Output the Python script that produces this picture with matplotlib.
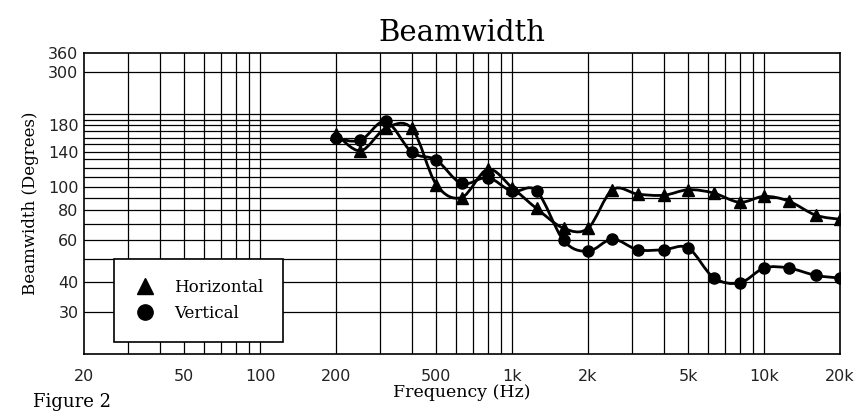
import numpy as np
import matplotlib
matplotlib.use("Agg")
import matplotlib.pyplot as plt
from matplotlib.path import Path
from matplotlib.patches import PathPatch
from matplotlib.lines import Line2D

# ---- data ----
freqs = [200, 250, 315, 400, 500, 630, 800, 1000, 1250, 1600, 2000, 2500,
         3150, 4000, 5000, 6300, 8000, 10000, 12500, 16000, 20000]
horizontal = [166, 141, 175, 175, 102, 90, 118, 99, 81, 67, 67, 97,
              93, 92, 97, 94, 86, 91, 87, 76, 73]
vertical = [159, 156, 187, 139, 129, 103, 109, 95.5, 96, 59.6, 53.7, 60.3,
            54.5, 54.5, 55.4, 41.7, 39.6, 45.7, 45.7, 42.6, 41.5]

xtick_vals = [20, 50, 100, 200, 500, 1000, 2000, 5000, 10000, 20000]
xtick_labels = ["20", "50", "100", "200", "500", "1k", "2k", "5k", "10k", "20k"]
ytick_vals = [30, 40, 60, 80, 100, 140, 180, 300, 360]
ytick_labels = ["30", "40", "60", "80", "100", "140", "180", "300", "360"]

SERIF = ["DejaVu Serif"]

fig = plt.figure(figsize=(8.65, 4.13), dpi=100)
ax = fig.add_axes([84 / 865, (413 - 354) / 413, 756 / 865, (354 - 53.3) / 413])
ax.set_xscale("log")
ax.set_yscale("log")
ax.set_xlim(20, 20000)
ax.set_ylim(20, 360)

# grid lines
vgrid = [m * 10 ** e for e in range(1, 5) for m in range(1, 10)]
vgrid = [v for v in vgrid if 20 < v < 20000]
hgrid = list(range(30, 201, 10)) + [300]
for v in vgrid:
    ax.axvline(v, color="black", lw=0.9, zorder=1)
for h in hgrid:
    ax.axhline(h, color="black", lw=0.9, zorder=1)

ax.set_xticks(xtick_vals)
ax.set_xticklabels(xtick_labels)
ax.set_yticks(ytick_vals)
ax.set_yticklabels(ytick_labels)
ax.xaxis.set_minor_locator(matplotlib.ticker.NullLocator())
ax.yaxis.set_minor_locator(matplotlib.ticker.NullLocator())
ax.tick_params(axis="both", length=0, labelsize=11.5, colors="#222222")
ax.tick_params(axis="x", pad=11)
ax.tick_params(axis="y", pad=4)
for s in ax.spines.values():
    s.set_linewidth(1.2)
    s.set_color("black")


def smooth_path(xs, ys):
    # Bezier control points in log space (Excel-style smoothing, tension 1/6)
    lx = np.log10(xs)
    ly = np.log10(ys)
    n = len(lx)
    verts = [(lx[0], ly[0])]
    codes = [Path.MOVETO]
    for i in range(n - 1):
        p0 = (lx[max(i - 1, 0)], ly[max(i - 1, 0)])
        p1 = (lx[i], ly[i])
        p2 = (lx[i + 1], ly[i + 1])
        p3 = (lx[min(i + 2, n - 1)], ly[min(i + 2, n - 1)])
        c1 = (p1[0] + (p2[0] - p0[0]) / 6, p1[1] + (p2[1] - p0[1]) / 6)
        c2 = (p2[0] - (p3[0] - p1[0]) / 6, p2[1] - (p3[1] - p1[1]) / 6)
        verts += [c1, c2, p2]
        codes += [Path.CURVE4] * 3
    verts = [(10 ** a, 10 ** b) for a, b in verts]
    return Path(verts, codes)


for series in (horizontal, vertical):
    ax.add_patch(PathPatch(smooth_path(freqs, series), fill=False,
                           edgecolor="black", lw=2.0, zorder=3))

ax.plot(freqs, horizontal, linestyle="none", marker="^", ms=8.5,
        color="black", zorder=4)
ax.plot(freqs, vertical, linestyle="none", marker="o", ms=8,
        color="black", zorder=4)

handles = [Line2D([], [], linestyle="none", marker="^", ms=11, color="black"),
           Line2D([], [], linestyle="none", marker="o", ms=11, color="black")]
leg = ax.legend(handles, ["Horizontal", "Vertical"], loc="upper left",
                bbox_to_anchor=(0.040, 0.315), frameon=True, fancybox=False,
                edgecolor="black", framealpha=1, borderpad=1.2,
                handletextpad=1.1, labelspacing=0.5, borderaxespad=0,
                handlelength=1.3, prop={"family": SERIF, "size": 12})
leg.get_frame().set_linewidth(1.2)
leg.set_zorder(5)

ax.set_title("Beamwidth", family=SERIF, fontsize=21, pad=9)
ax.set_xlabel("Frequency (Hz)", family=SERIF, fontsize=12.5, labelpad=0)
ax.set_ylabel("Beamwidth (Degrees)", family=SERIF, fontsize=12, labelpad=6)

fig.text(33 / 865, 2 / 413, "Figure 2", family=SERIF, fontsize=13,
         va="bottom", ha="left")

fig.savefig("out.png", dpi=100)
